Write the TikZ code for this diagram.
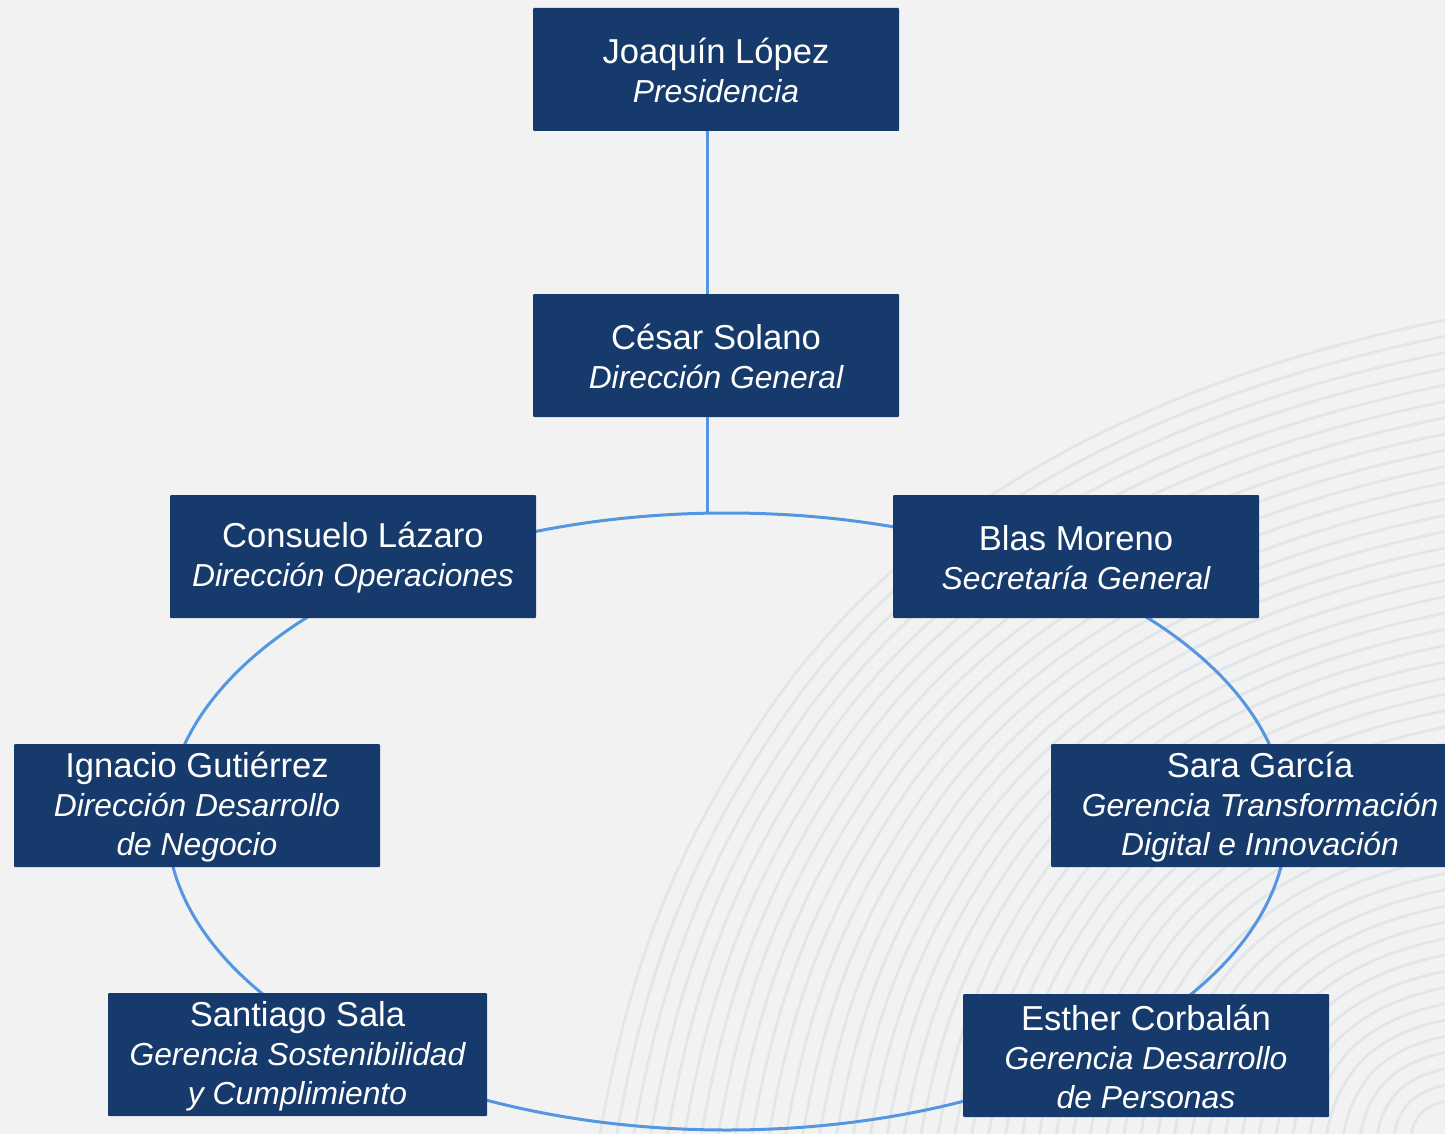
\documentclass[tikz,border=0pt]{standalone}
\usepackage{fontspec}
\setmainfont{Liberation Sans}
\definecolor{bg}{HTML}{F2F2F2}
\definecolor{boxblue}{HTML}{153A6B}
\definecolor{linkblue}{HTML}{5596E0}
\definecolor{wave}{HTML}{E1E7E9}
\newcommand\rolefont{\fontsize{15.9}{19.5}\selectfont\itshape}
\begin{document}
\begin{tikzpicture}[x=0.5pt,y=-0.5pt,
  person/.style={fill=boxblue, text=white, rounded corners=0.5pt, minimum width=183pt, minimum height=61.5pt, inner sep=0pt, align=center, font=\fontsize{17.3}{19.5}\selectfont},
  link/.style={draw=linkblue, line width=1.5pt},
  waveline/.style={draw=wave, line width=1.4pt}]
\useasboundingbox (0,0) rectangle (1445,1134);
\fill[bg] (0,0) rectangle (1445,1134);
\begin{scope}
\clip (0,0) rectangle (1445,1134);
\foreach \i in {0,...,48}{
  \pgfmathsetmacro\s{1-\i/50}
  \begin{scope}[shift={(1445,1134)}, scale=\s]
  \draw[waveline] (-845,0) .. controls (-815,-170) and (-770,-290) .. (-665,-440) .. controls (-505,-660) and (-245,-764) .. (0,-814);
  \end{scope}
}
\end{scope}
\draw[link] (727,821.5) ellipse [x radius=280pt, y radius=154.25pt];
\node[person] (joaquin) at (716,69.5) {\rule{0pt}{14pt}Joaquín López\\{\rolefont Presidencia}};
\node[person] (cesar) at (716,355.5) {\rule{0pt}{14pt}César Solano\\{\rolefont Dirección General}};
\node[person] (consuelo) at (353,556.5) {\rule{0pt}{14pt}Consuelo Lázaro\\{\rolefont Dirección Operaciones}};
\node[person] (blas) at (1076,556.5) {\rule{0pt}{14pt}Blas Moreno\\{\rolefont Secretaría General}};
\node[person] (ignacio) at (197,805.5) {\rule{0pt}{14pt}Ignacio Gutiérrez\\{\rolefont Dirección Desarrollo}\\{\rolefont de Negocio}};
\node[person, minimum width=209pt] (sara) at (1260,805.5) {\rule{0pt}{14pt}Sara García\\{\rolefont Gerencia Transformación}\\{\rolefont Digital e Innovación}};
\node[person, minimum width=189.5pt] (santiago) at (297.5,1054.5) {\rule{0pt}{14pt}Santiago Sala\\{\rolefont Gerencia Sostenibilidad}\\{\rolefont y Cumplimiento}};
\node[person] (esther) at (1146,1055.5) {\rule{0pt}{14pt}Esther Corbalán\\{\rolefont Gerencia Desarrollo}\\{\rolefont de Personas}};
\coordinate (ringtop) at (707,513.5);
\draw[link] ([xshift=-4.5pt]joaquin.south) -- ([xshift=-4.5pt]cesar.north);
\draw[link] ([xshift=-4.5pt]cesar.south) -- (ringtop);
\end{tikzpicture}
\end{document}
